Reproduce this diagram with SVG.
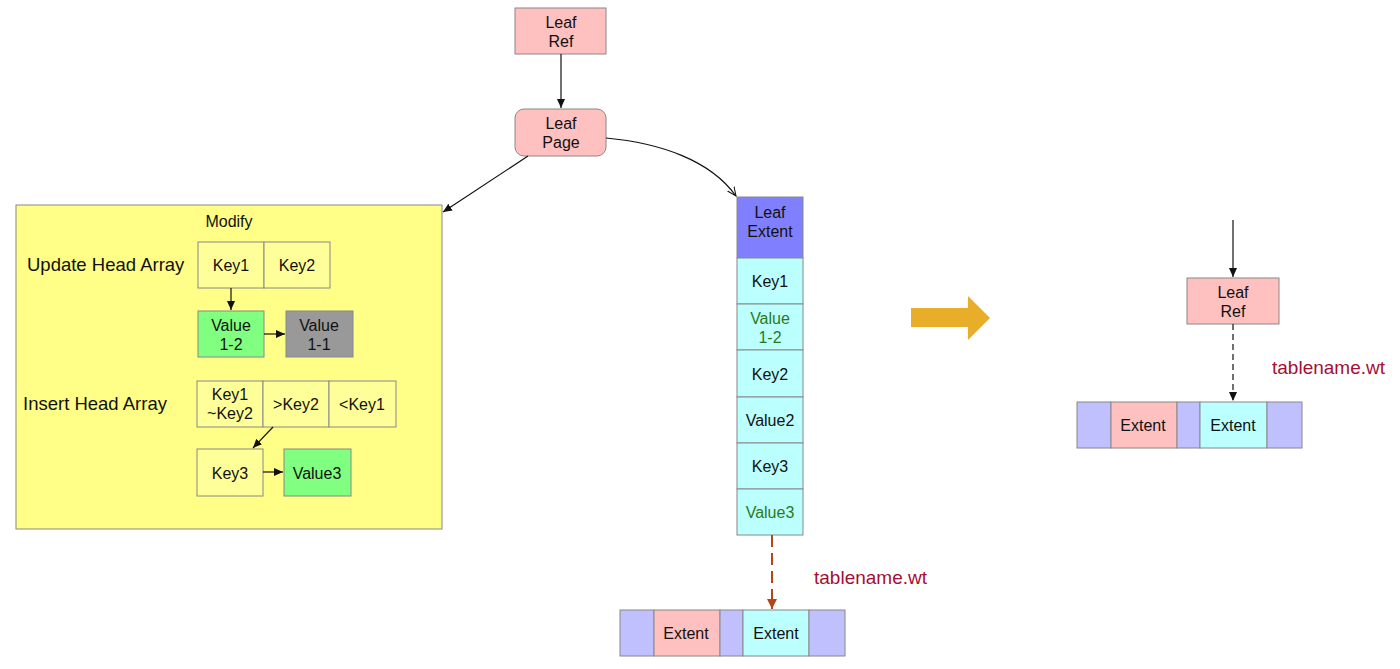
<svg xmlns="http://www.w3.org/2000/svg" width="1400" height="669" viewBox="0 0 1400 669">
<defs>
<style>
text{font-family:"Liberation Sans",Arial,sans-serif;font-size:16px;fill:#111;text-anchor:middle}
.b{stroke:#888;stroke-width:1}
.pink{fill:#ffc0c0}
.cyan{fill:#bbffff}
.purp{fill:#c0c0ff}
.yel{fill:#ffff99}
.lbl{font-size:18.5px;text-anchor:start}
.red{fill:#a50f33;font-size:19px;text-anchor:start}
.grn{fill:#2a7a1a}
.c{fill:none;stroke:#111;stroke-width:1.2}
</style>
<marker id="ah" markerWidth="10" markerHeight="10" refX="9" refY="5" orient="auto" markerUnits="userSpaceOnUse"><path d="M0,1 L9,5 L0,9 Z" fill="#111"/></marker>
<marker id="ao" markerWidth="10" markerHeight="10" refX="9" refY="5" orient="auto" markerUnits="userSpaceOnUse"><path d="M0,1 L9,5 L0,9" fill="none" stroke="#111" stroke-width="1"/></marker>
<marker id="ab" markerWidth="12" markerHeight="12" refX="10" refY="6" orient="auto" markerUnits="userSpaceOnUse"><path d="M0,1 L10,6 L0,11 Z" fill="#b5451b"/></marker>
</defs>
<rect width="1400" height="669" fill="#fff"/>

<g id="modify">
<rect x="16" y="205" width="426" height="324" fill="#ffff88" class="b"/>
<text x="229" y="227">Modify</text>
<text class="lbl" x="27" y="271">Update Head Array</text>
<text class="lbl" x="23" y="410">Insert Head Array</text>
</g>
<g id="upd-key1"><rect x="198" y="242" width="66" height="46" class="b yel"/><text x="231" y="271">Key1</text></g>
<g id="upd-key2"><rect x="264" y="242" width="66" height="46" class="b yel"/><text x="297" y="271">Key2</text></g>
<g id="val12"><rect x="198" y="311" width="66" height="46" class="b" fill="#80ff80"/><text x="231" y="331">Value</text><text x="231" y="350">1-2</text></g>
<g id="val11"><rect x="286" y="311" width="67" height="46" class="b" fill="#999"/><text x="319" y="331">Value</text><text x="319" y="350">1-1</text></g>
<g id="ins-k1k2"><rect x="197" y="381" width="66" height="46" class="b yel"/><text x="230" y="400">Key1</text><text x="230" y="419">~Key2</text></g>
<g id="ins-gtk2"><rect x="263" y="381" width="66" height="46" class="b yel"/><text x="296" y="410">&gt;Key2</text></g>
<g id="ins-ltk1"><rect x="329" y="381" width="67" height="46" class="b yel"/><text x="362" y="410">&lt;Key1</text></g>
<g id="key3"><rect x="197" y="449" width="66" height="47" class="b yel"/><text x="230" y="479">Key3</text></g>
<g id="value3"><rect x="284" y="449" width="67" height="47" class="b" fill="#80ff80"/><text x="317" y="479">Value3</text></g>

<g id="leafref"><rect x="515" y="8" width="91" height="46" class="b pink"/><text x="561" y="28">Leaf</text><text x="561" y="47">Ref</text></g>
<g id="leafpage"><rect x="515" y="109" width="91" height="47" rx="9" class="b pink"/><text x="561" y="129">Leaf</text><text x="561" y="148">Page</text></g>

<g id="leafextent">
<rect x="737" y="197" width="66" height="61" class="b" fill="#8080ff"/><text x="770" y="218">Leaf</text><text x="770" y="237">Extent</text>
<rect x="737" y="258" width="66" height="46" class="b cyan"/><text x="770" y="287">Key1</text>
<rect x="737" y="304" width="66" height="46" class="b cyan"/><text class="grn" x="770" y="324">Value</text><text class="grn" x="770" y="343">1-2</text>
<rect x="737" y="350" width="66" height="47" class="b cyan"/><text x="770" y="380">Key2</text>
<rect x="737" y="397" width="66" height="46" class="b cyan"/><text x="770" y="426">Value2</text>
<rect x="737" y="443" width="66" height="46" class="b cyan"/><text x="770" y="472">Key3</text>
<rect x="737" y="489" width="66" height="46" class="b cyan"/><text class="grn" x="770" y="518">Value3</text>
</g>

<g id="file1">
<rect x="620" y="610" width="34" height="46" class="b purp"/>
<rect x="654" y="610" width="66" height="46" class="b pink"/><text x="686" y="639">Extent</text>
<rect x="720" y="610" width="23" height="46" class="b purp"/>
<rect x="743" y="610" width="66" height="46" class="b cyan"/><text x="776" y="639">Extent</text>
<rect x="809" y="610" width="36" height="46" class="b purp"/>
<text class="red" x="814" y="584">tablename.wt</text>
</g>

<g id="bigarrow"><path d="M911,308 L968,308 L968,296 L990,318 L968,340 L968,327 L911,327 Z" fill="#e8ae2a"/></g>

<g id="leafref2"><rect x="1187" y="278" width="92" height="46" class="b pink"/><text x="1233" y="298">Leaf</text><text x="1233" y="317">Ref</text></g>
<g id="file2">
<rect x="1077" y="402" width="34" height="46" class="b purp"/>
<rect x="1111" y="402" width="66" height="46" class="b pink"/><text x="1143" y="431">Extent</text>
<rect x="1177" y="402" width="23" height="46" class="b purp"/>
<rect x="1200" y="402" width="67" height="46" class="b cyan"/><text x="1233" y="431">Extent</text>
<rect x="1267" y="402" width="35" height="46" class="b purp"/>
<text class="red" x="1272" y="374">tablename.wt</text>
</g>

<g id="connectors">
<line x1="561" y1="54" x2="561" y2="108" class="c" marker-end="url(#ah)"/>
<path d="M606,138 C660,143 710,160 736,196" class="c" marker-end="url(#ao)"/>
<line x1="528" y1="156" x2="443" y2="212" class="c" marker-end="url(#ah)"/>
<line x1="231" y1="288" x2="231" y2="310" class="c" marker-end="url(#ah)"/>
<line x1="264" y1="334" x2="285" y2="334" class="c" marker-end="url(#ah)"/>
<line x1="273" y1="427" x2="253" y2="448" class="c" marker-end="url(#ah)"/>
<line x1="263" y1="472" x2="283" y2="472" class="c" marker-end="url(#ah)"/>
<line x1="772" y1="535" x2="772" y2="609" fill="none" stroke="#b5451b" stroke-width="2" stroke-dasharray="12,6" marker-end="url(#ab)"/>
<line x1="1233" y1="220" x2="1233" y2="277" class="c" marker-end="url(#ah)"/>
<line x1="1233" y1="324" x2="1233" y2="401" class="c" stroke-dasharray="6,4" marker-end="url(#ah)"/>
</g>
</svg>
